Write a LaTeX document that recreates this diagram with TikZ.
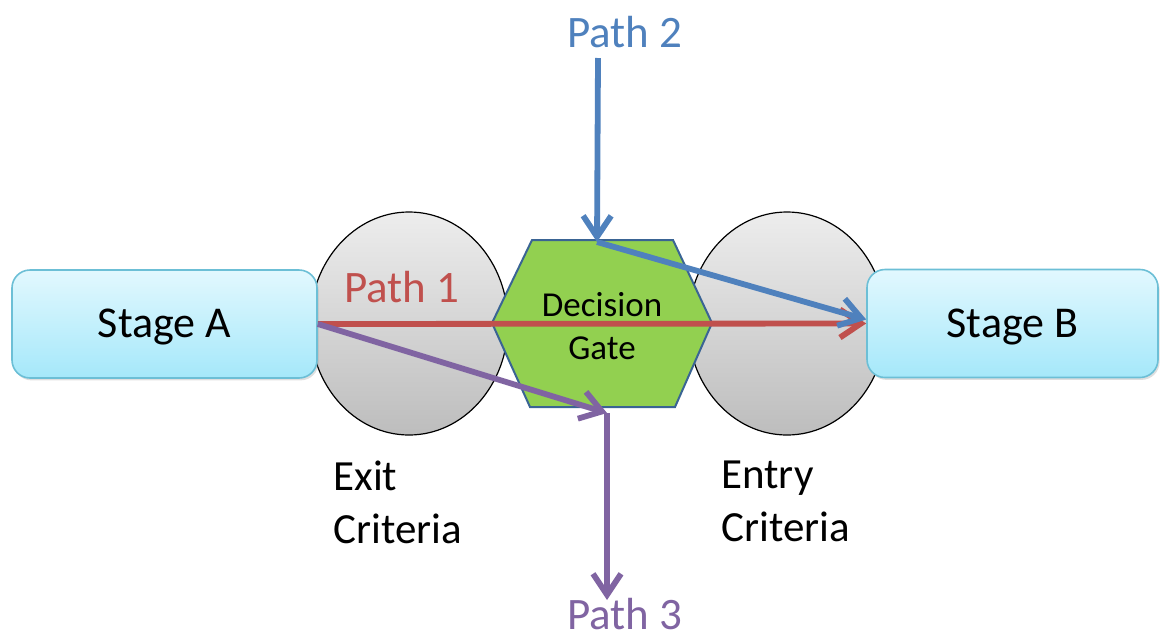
\documentclass[tikz,border=0pt]{standalone}
\usepackage{fontspec}
\setmainfont{Carlito}
\usetikzlibrary{arrows.meta,shapes.geometric,shadows}
\definecolor{pathred}{HTML}{C0504D}
\definecolor{pathblue}{HTML}{4F81BD}
\definecolor{pathpurple}{HTML}{8064A2}
\definecolor{gategreen}{HTML}{92D050}
\definecolor{gateedge}{HTML}{3A6494}
\definecolor{stagetop}{HTML}{E2F8FE}
\definecolor{stagebot}{HTML}{A5E8FA}
\definecolor{stageedge}{HTML}{6CBFD6}
\definecolor{crittop}{HTML}{EDEDED}
\definecolor{critbot}{HTML}{BDBDBD}

\begin{document}
\begin{tikzpicture}[x=0.5pt,y={(0pt,-0.5pt)},
	stage/.style={draw=stageedge, line width=0.8pt, rounded corners=9pt, top color=stagetop, bottom color=stagebot,
		minimum height=54pt, inner sep=0pt, font=\fontsize{22}{26}\selectfont, text height=13.9pt, text depth=0pt,
		drop shadow={shadow xshift=0.8pt, shadow yshift=-1.2pt, opacity=0.25}},
	crit/.style={ellipse, draw=black, line width=0.6pt, top color=crittop, bottom color=critbot,
		minimum width=99pt, minimum height=111.5pt, inner sep=0pt},
	critlabel/.style={anchor=north west, align=left, inner sep=0pt, font=\fontsize{21.5}{26.5}\selectfont},
	pathlabel/.style={anchor=base, inner sep=0pt, text depth=0pt, font=\fontsize{22.5}{27}\selectfont},
	pathline/.style={line width=2.9pt, -{Straight Barb[length=10.5pt,width=14pt]}},
]
	\useasboundingbox (0,0) rectangle (1160,643);

	\node[crit] (exit) at (409,323.5) {};
	\node[crit] (entry) at (787,323.5) {};
	\node[stage, minimum width=152.5pt] (stageA) at (164.5,324) {Stage A};
	\node[stage, minimum width=145.5pt] (stageB) at (1012.5,323.5) {Stage B};

	\draw[gateedge, line width=1pt, fill=gategreen] (532,240) -- (673,240) -- (712,323) -- (675,407) -- (530,407) -- (492,323) -- cycle;
	\node[align=center, inner sep=0pt, font=\fontsize{17.5}{21.5}\selectfont] (gate) at (602,326) {Decision\\Gate};

	\node[critlabel] (exitlabel) at (333,461) {Exit\\Criteria};
	\node[critlabel] (entrylabel) at (721,461) {Entry\\Criteria};

	\coordinate (p2top) at (598,58);
	\coordinate (p2bend) at (597,242);
	\coordinate (p3bend) at (607,413);
	\coordinate (p3end) at (607,600);

	\draw[pathline, pathred] (stageA.east) -- (stageB.west);
	\draw[pathline, pathblue] (p2top) -- (p2bend);
	\draw[pathline, pathblue] (p2bend) -- ([yshift=2pt]stageB.west);
	\draw[pathline, pathpurple] (stageA.east) -- (p3bend);
	\draw[pathline, pathpurple] (p3bend) -- (p3end);

	\node[pathlabel, text=pathred] (path1) at (402,302) {Path 1};
	\node[pathlabel, text=pathblue] (path2) at (625,47) {Path 2};
	\node[pathlabel, text=pathpurple] (path3) at (625,629) {Path 3};
\end{tikzpicture}
\end{document}
